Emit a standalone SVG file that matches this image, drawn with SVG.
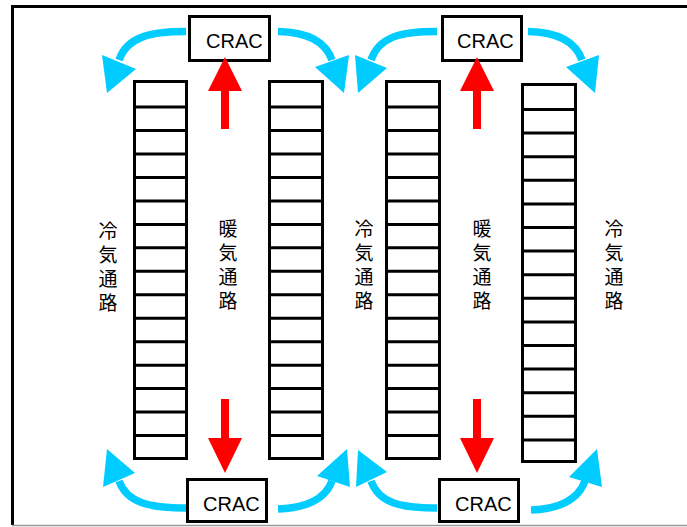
<svg xmlns="http://www.w3.org/2000/svg" width="687" height="527" viewBox="0 0 687 527">
  <style>
    .frame { fill: none; stroke: #000; stroke-width: 3; }
    .rack { fill: #fff; stroke: #000; stroke-width: 3; }
    .rows { fill: none; stroke: #000; stroke-width: 3; }
    .crac { fill: #fff; stroke: #000; stroke-width: 3; }
    .crac-label { font-family: "Liberation Sans", Arial, sans-serif; font-size: 20px; fill: #000; }
    .aisle { font-family: "Noto Sans CJK JP", "Noto Sans", sans-serif; font-size: 19px; fill: #000; writing-mode: vertical-rl; letter-spacing: 5px; }
    .flow { fill: none; stroke: #00CCFF; stroke-width: 7.5; }
    .flow-head { fill: #00CCFF; }
    .hot { fill: #FF0000; }
  </style>

  <rect width="687" height="527" fill="#fff"/>

  <!-- room outline -->
  <g id="room">
    <path class="frame" d="M12.5,525 V6.5 H687"/>
    <line x1="12" y1="525.5" x2="687" y2="525.5" stroke="#9a9a9a" stroke-width="1.5"/>
  </g>

  <!-- server racks -->
  <g id="rack1">
    <rect class="rack" x="134.5" y="81.5" width="52" height="377"/>
    <path class="rows" d="M134.5,107H186.5M134.5,130.5H186.5M134.5,154H186.5M134.5,177.4H186.5M134.5,200.9H186.5M134.5,224.4H186.5M134.5,247.8H186.5M134.5,271.3H186.5M134.5,294.8H186.5M134.5,318.2H186.5M134.5,341.7H186.5M134.5,365.2H186.5M134.5,388.6H186.5M134.5,412.1H186.5M134.5,435.6H186.5"/>
  </g>
  <g id="rack2">
    <rect class="rack" x="269.5" y="81.5" width="53" height="377"/>
    <path class="rows" d="M269.5,107H322.5M269.5,130.5H322.5M269.5,154H322.5M269.5,177.4H322.5M269.5,200.9H322.5M269.5,224.4H322.5M269.5,247.8H322.5M269.5,271.3H322.5M269.5,294.8H322.5M269.5,318.2H322.5M269.5,341.7H322.5M269.5,365.2H322.5M269.5,388.6H322.5M269.5,412.1H322.5M269.5,435.6H322.5"/>
  </g>
  <g id="rack3">
    <rect class="rack" x="386.5" y="81.5" width="53" height="377"/>
    <path class="rows" d="M386.5,107H439.5M386.5,130.5H439.5M386.5,154H439.5M386.5,177.4H439.5M386.5,200.9H439.5M386.5,224.4H439.5M386.5,247.8H439.5M386.5,271.3H439.5M386.5,294.8H439.5M386.5,318.2H439.5M386.5,341.7H439.5M386.5,365.2H439.5M386.5,388.6H439.5M386.5,412.1H439.5M386.5,435.6H439.5"/>
  </g>
  <g id="rack4">
    <rect class="rack" x="522.5" y="84.5" width="53" height="377"/>
    <path class="rows" d="M522.5,109.5H575.5M522.5,133.1H575.5M522.5,156.7H575.5M522.5,180.3H575.5M522.5,203.9H575.5M522.5,227.5H575.5M522.5,251.1H575.5M522.5,274.7H575.5M522.5,298.3H575.5M522.5,321.9H575.5M522.5,345.5H575.5M522.5,369.1H575.5M522.5,392.7H575.5M522.5,416.3H575.5M522.5,439.9H575.5"/>
  </g>

  <!-- CRAC units -->
  <g id="crac-top-left">
    <rect class="crac" x="189.5" y="16.5" width="80" height="44"/>
    <text class="crac-label" x="206" y="48">CRAC</text>
  </g>
  <g id="crac-top-right">
    <rect class="crac" x="442.5" y="16.5" width="79" height="44"/>
    <text class="crac-label" x="457" y="48">CRAC</text>
  </g>
  <g id="crac-bottom-left">
    <rect class="crac" x="187.5" y="479.5" width="79" height="42"/>
    <text class="crac-label" x="203" y="511">CRAC</text>
  </g>
  <g id="crac-bottom-right">
    <rect class="crac" x="439.5" y="479.5" width="79" height="42"/>
    <text class="crac-label" x="455" y="511">CRAC</text>
  </g>

  <!-- aisle labels, set vertically -->
  <g id="cold-aisle-1"><text class="aisle" x="108" y="221">冷気通路</text></g>
  <g id="hot-aisle-1"><text class="aisle" x="228" y="219">暖気通路</text></g>
  <g id="cold-aisle-2"><text class="aisle" x="364" y="219">冷気通路</text></g>
  <g id="hot-aisle-2"><text class="aisle" x="482" y="219">暖気通路</text></g>
  <g id="cold-aisle-3"><text class="aisle" x="614" y="219">冷気通路</text></g>

  <!-- airflow connectors -->
  <g id="connectors">
    <!-- hot air rising to the CRAC units -->
    <path class="hot" d="M221,129 V91 H208 L225,57 L242,91 H229 V129 Z"/>
    <path class="hot" d="M473,129 V91 H460 L477,57 L494,91 H481 V129 Z"/>
    <path class="hot" d="M221,399 V438 H208 L225,473 L242,438 H229 V399 Z"/>
    <path class="hot" d="M473,399 V438 H460 L477,473 L494,438 H481 V399 Z"/>

    <!-- cold air supplied from the CRAC units -->
    <path class="flow" d="M186,31.5 C150,31.5 127,37 119,60"/>
    <polygon class="flow-head" points="102,55 136,69 107,93"/>
    <path class="flow" d="M278,31.5 C305,32 325,40 332,60"/>
    <polygon class="flow-head" points="315,67 349,55 344,93"/>
    <path class="flow" d="M437,31.5 C400,31.5 379,37 371,60"/>
    <polygon class="flow-head" points="355,55 387,68 358,93"/>
    <path class="flow" d="M528,31.5 C555,32 575,40 582,60"/>
    <polygon class="flow-head" points="566,67 599,55 595,93"/>

    <path class="flow" d="M186,508 C150,508 127,503 119,481"/>
    <polygon class="flow-head" points="103,487 135,473 107,449"/>
    <path class="flow" d="M278,509 C305,508 325,500 332,481"/>
    <polygon class="flow-head" points="317,476 350,487 347,449"/>
    <path class="flow" d="M437,508 C400,508 379,503 371,481"/>
    <polygon class="flow-head" points="356,487 387,472 358,450"/>
    <path class="flow" d="M531,510 C558,509 578,500 585,481"/>
    <polygon class="flow-head" points="569,477 602,487 597,449"/>
  </g>
</svg>
